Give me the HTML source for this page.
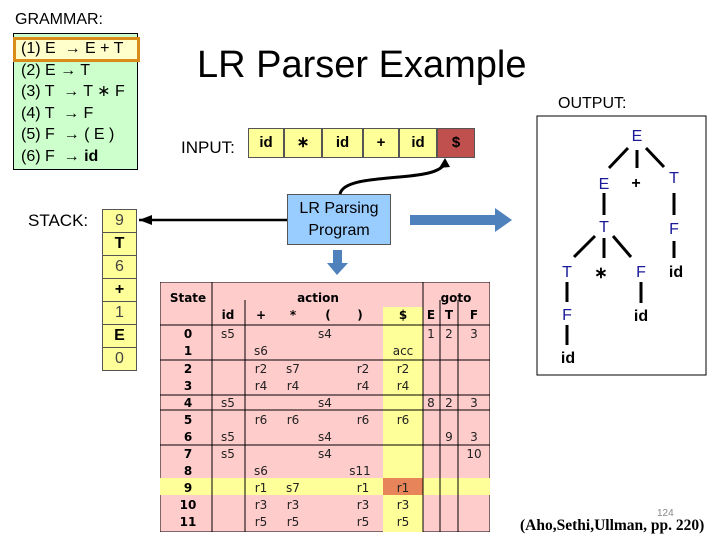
<!DOCTYPE html>
<html><head><style>
body{margin:0;width:720px;height:540px;background:#fff;position:relative;overflow:hidden;font-family:"Liberation Sans",sans-serif}
.a{position:absolute}
</style></head><body>
<div class="a" style="left:15px;top:11px;font-size:16px">GRAMMAR:</div>
<div class="a" style="left:13px;top:33px;width:125px;height:137px;background:#ccffcc;border:1px solid #000;box-sizing:border-box"></div>
<div class="a" style="left:13px;top:37px;width:127px;height:25px;border:3px solid #d98c1a;box-sizing:border-box;background:#ffffcc"></div>
<div class="a" style="left:21px;top:38px;font-size:16px;line-height:21.5px">(1) E &nbsp;→ E + T<br>(2) E → T<br>(3) T &nbsp;→ T ∗ F<br>(4) T &nbsp;→ F<br>(5) F &nbsp;→ ( E )<br>(6) F &nbsp;→ <b>id</b></div>
<div class="a" style="left:197px;top:44px;font-size:38px">LR Parser Example</div>
<div class="a" style="left:181px;top:138px;font-size:17px">INPUT:</div>
<div class="a" style="left:248px;top:128px;display:flex;height:30px;font-size:15px;font-weight:bold">
<div style="width:34px;background:#ffff99;border:1px solid #555;text-align:center;line-height:28px">id</div>
<div style="width:36px;background:#ffff99;border:1px solid #555;text-align:center;line-height:28px">∗</div>
<div style="width:39px;background:#ffff99;border:1px solid #555;text-align:center;line-height:28px">id</div>
<div style="width:34px;background:#ffff99;border:1px solid #555;text-align:center;line-height:28px">+</div>
<div style="width:36px;background:#ffff99;border:1px solid #555;text-align:center;line-height:28px">id</div>
<div style="width:36px;background:#c0504d;border:1px solid #555;text-align:center;line-height:28px">$</div>
</div>
<div class="a" style="left:28px;top:211px;font-size:17px">STACK:</div>
<div class="a" style="left:102px;top:209px;width:35px">
<div style="height:22px;background:#ffff99;border:1px solid #555;text-align:center;font-size:16px;line-height:22px;color:#444">9</div>
<div style="height:22px;background:#ffff99;border:1px solid #555;border-top:0;text-align:center;font-size:16px;line-height:22px;font-weight:bold">T</div>
<div style="height:22px;background:#ffff99;border:1px solid #555;border-top:0;text-align:center;font-size:16px;line-height:22px;color:#444">6</div>
<div style="height:22px;background:#ffff99;border:1px solid #555;border-top:0;text-align:center;font-size:16px;line-height:22px;font-weight:bold">+</div>
<div style="height:22px;background:#ffff99;border:1px solid #555;border-top:0;text-align:center;font-size:16px;line-height:22px;color:#444">1</div>
<div style="height:22px;background:#ffff99;border:1px solid #555;border-top:0;text-align:center;font-size:16px;line-height:22px;font-weight:bold">E</div>
<div style="height:22px;background:#ffff99;border:1px solid #555;border-top:0;text-align:center;font-size:16px;line-height:22px;color:#444">0</div>
</div>
<div class="a" style="left:287px;top:194px;width:104px;height:51px;background:#99ccff;border:1px solid #555;box-sizing:border-box;text-align:center;font-size:16px;line-height:22px;padding-top:3px">LR Parsing<br>Program</div>
<svg class="a" style="left:0;top:0" width="720" height="540">
<line x1="139" y1="220" x2="287" y2="220" stroke="#000" stroke-width="2.5"/>
<polygon points="139,220 152,215 152,225" fill="#000"/>
<path d="M340,194 C345,170 440,185 445,162" stroke="#000" stroke-width="3" fill="none"/>
<polygon points="445,158 439,168 450,167" fill="#000"/>
<rect x="410" y="215" width="85" height="10" fill="#4f81bd"/>
<polygon points="495,208 512,220 495,232" fill="#4f81bd"/>
<rect x="333" y="250" width="9" height="14" fill="#4f81bd"/>
<polygon points="327,263 348,263 337,275" fill="#4f81bd"/>
<rect x="537" y="116" width="169" height="259" fill="none" stroke="#000" stroke-width="1"/>
<g stroke="#000" stroke-width="3">
<line x1="628" y1="148" x2="609" y2="168"/><line x1="637" y1="150" x2="637" y2="168"/><line x1="646" y1="148" x2="664" y2="167"/>
<line x1="604" y1="193" x2="604" y2="215"/><line x1="674" y1="193" x2="674" y2="215"/>
<line x1="595" y1="236" x2="574" y2="257"/><line x1="604" y1="238" x2="604" y2="258"/><line x1="613" y1="236" x2="631" y2="257"/>
<line x1="674" y1="241" x2="674" y2="258"/>
<line x1="567" y1="282" x2="567" y2="302"/><line x1="641" y1="282" x2="641" y2="303"/>
<line x1="567" y1="325" x2="567" y2="345"/>
</g>
<g font-family="Liberation Sans" font-size="16" text-anchor="middle" fill="#1a1a99">
<text x="637" y="141">E</text><text x="604" y="189">E</text><text x="674" y="183">T</text>
<text x="604" y="232">T</text><text x="674" y="234">F</text>
<text x="567" y="277">T</text><text x="641" y="277">F</text><text x="567" y="320">F</text>
</g>
<g font-family="Liberation Sans" font-size="16" font-weight="bold" text-anchor="middle" fill="#000">
<text x="636" y="188">+</text><text x="601" y="278">∗</text><text x="676" y="277">id</text><text x="641" y="321">id</text><text x="568" y="363">id</text>
</g>
</svg>
<div class="a" style="left:558px;top:95px;font-size:16px">OUTPUT:</div>
<svg class="a" style="left:160px;top:282px" width="330" height="250" font-family="DejaVu Sans" font-size="12">
<rect x="0" y="0" width="330" height="250" fill="#ffcccc" stroke="#000"/>
<rect x="223" y="25" width="40" height="225" fill="#ffff99"/>
<rect x="0" y="196" width="330" height="17" fill="#ffff99"/>
<rect x="223" y="196" width="40" height="17" fill="#e8845a"/>
<g stroke="#000" stroke-width="1">
<line x1="52" y1="0" x2="52" y2="250"/>
<line x1="85" y1="18" x2="85" y2="250"/><line x1="263" y1="0" x2="263" y2="250"/>
<line x1="280" y1="18" x2="280" y2="250"/><line x1="298" y1="18" x2="298" y2="250"/>
<line x1="0" y1="43" x2="330" y2="43"/><line x1="0" y1="78" x2="330" y2="78"/>
<line x1="0" y1="113" x2="330" y2="113"/><line x1="0" y1="128" x2="330" y2="128"/>
<line x1="0" y1="163" x2="330" y2="163"/>
</g>
<g font-weight="bold" text-anchor="middle">
<text x="28" y="20">State</text><text x="158" y="20">action</text><text x="296" y="20">goto</text>
<text x="68" y="37">id</text><text x="101" y="37">+</text><text x="133" y="37">*</text><text x="168" y="37">(</text><text x="200" y="37">)</text><text x="243" y="37">$</text>
<text x="271" y="37">E</text><text x="289" y="37">T</text><text x="314" y="37">F</text>
<text x="28" y="56">0</text><text x="28" y="73">1</text><text x="28" y="91">2</text><text x="28" y="108">3</text><text x="28" y="125">4</text><text x="28" y="142">5</text><text x="28" y="159">6</text><text x="28" y="176">7</text><text x="28" y="193">8</text><text x="28" y="210">9</text><text x="28" y="227">10</text><text x="28" y="244">11</text>
</g>
<g text-anchor="middle" fill="#222">
<text x="68" y="56">s5</text><text x="165" y="56">s4</text><text x="271" y="56">1</text><text x="289" y="56">2</text><text x="314" y="56">3</text>
<text x="101" y="73">s6</text><text x="243" y="73">acc</text>
<text x="101" y="91">r2</text><text x="133" y="91">s7</text><text x="203" y="91">r2</text><text x="243" y="91">r2</text>
<text x="101" y="108">r4</text><text x="133" y="108">r4</text><text x="203" y="108">r4</text><text x="243" y="108">r4</text>
<text x="68" y="125">s5</text><text x="165" y="125">s4</text><text x="271" y="125">8</text><text x="289" y="125">2</text><text x="314" y="125">3</text>
<text x="101" y="142">r6</text><text x="133" y="142">r6</text><text x="203" y="142">r6</text><text x="243" y="142">r6</text>
<text x="68" y="159">s5</text><text x="165" y="159">s4</text><text x="289" y="159">9</text><text x="314" y="159">3</text>
<text x="68" y="176">s5</text><text x="165" y="176">s4</text><text x="314" y="176">10</text>
<text x="101" y="193">s6</text><text x="200" y="193">s11</text>
<text x="101" y="210">r1</text><text x="133" y="210">s7</text><text x="203" y="210">r1</text><text x="243" y="210">r1</text>
<text x="101" y="227">r3</text><text x="133" y="227">r3</text><text x="203" y="227">r3</text><text x="243" y="227">r3</text>
<text x="101" y="244">r5</text><text x="133" y="244">r5</text><text x="203" y="244">r5</text><text x="243" y="244">r5</text>
</g>
</svg>
<div class="a" style="left:657px;top:508px;font-size:10px;color:#888">124</div>
<div class="a" style="left:520px;top:517px;font-family:'Liberation Serif',serif;font-weight:bold;font-size:15.5px">(Aho,Sethi,Ullman, pp. 220)</div>
</body></html>
